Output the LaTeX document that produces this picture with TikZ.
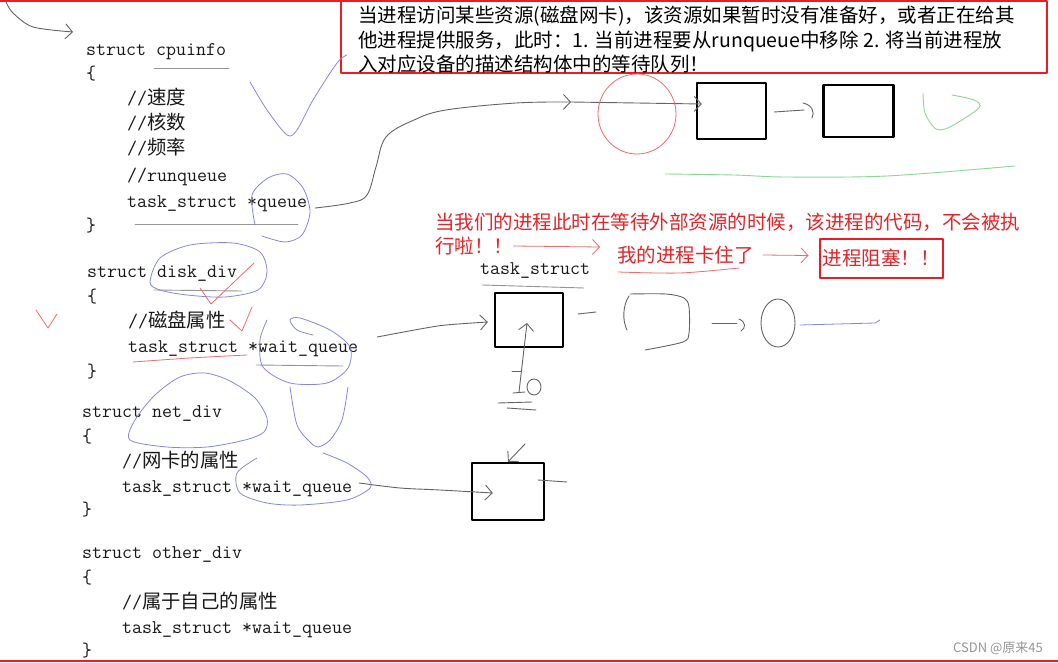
\documentclass[tikz,border=0pt]{standalone}
\usepackage{fontspec}
\usetikzlibrary{arrows.meta,positioning,calc}
\newfontfamily\cjk{Noto Sans CJK SC}
\definecolor{framered}{RGB}{236,28,36}
\definecolor{ink}{RGB}{25,25,25}
\definecolor{pengray}{RGB}{100,100,100}
\definecolor{lightgray}{RGB}{150,150,150}
\definecolor{penblue}{RGB}{135,135,225}
\definecolor{penred}{RGB}{242,105,110}
\definecolor{pengreen}{RGB}{140,215,150}
\definecolor{textred}{RGB}{230,35,40}
\newcommand\zhtext[1]{{\cjk #1}}
\tikzset{code/.style = {anchor=west, inner sep=0pt, text=ink, text height=14pt, text depth=4pt,
    font=\fontsize{19.4}{24}\selectfont\ttfamily},
  note/.style = {anchor=west, inner sep=0pt, font=\cjk\fontsize{19.5}{24.5}\selectfont},
  box/.style = {draw=black, line width=2.4pt, inner sep=0pt},
  redbox/.style = {draw=framered, line width=2pt},
  inkline/.style = {draw=pengray, line width=.9pt},
  underline/.style = {draw=lightgray, line width=.9pt},
  blueline/.style = {draw=penblue, line width=.8pt},
  redline/.style = {draw=penred, line width=.8pt},
  greenline/.style = {draw=pengreen, line width=.9pt}}

\begin{document}
\begin{tikzpicture}[x=1pt, y=-1pt, line cap=round, line join=round,
    >={Straight Barb[length=7pt,width=15pt]}]
  \useasboundingbox (0,0) rectangle (1058,663);
  \fill[white] (0,0) rectangle (1058,663);

  % the note at the top
  \draw[framered, line width=2pt] (0,1) -- (341,1);
  \node[redbox, minimum width=706pt, minimum height=72pt] (note) at (694,37) {};
  \node[note, anchor=north west, align=left] (notetext) at (358,6)
    {当进程访问某些资源(磁盘网卡)，该资源如果暂时没有准备好，或者正在给其\\
     他进程提供服务，此时：1. 当前进程要从runqueue中移除 2. 将当前进程放\\
     入对应设备的描述结构体中的等待队列！};

  % the structs
  \node[code] (cpu) at (86,51) {struct cpuinfo};
  \node[code] (cpuo) at (86,75) {\{};
  \node[code] (speed) at (127,100) {//\zhtext{速度}};
  \node[code] (cores) at (127,125) {//\zhtext{核数}};
  \node[code] (freq) at (127,150) {//\zhtext{频率}};
  \node[code] (runq) at (127,177) {//runqueue};
  \node[code] (queue) at (127,203) {task\_struct *queue};
  \node[code] (cpuc) at (86,227) {\}};

  \node[code] (disk) at (87,272) {struct disk\_div};
  \node[code] (disko) at (87,297) {\{};
  \node[code] (diskattr) at (128,322) {//\zhtext{磁盘属性}};
  \node[code] (diskq) at (128,347) {task\_struct *wait\_queue};
  \node[code] (diskc) at (87,372) {\}};

  \node[code] (net) at (82,412) {struct net\_div};
  \node[code] (neto) at (82,437) {\{};
  \node[code] (netattr) at (122,462) {//\zhtext{网卡的属性}};
  \node[code] (netq) at (122,487) {task\_struct *wait\_queue};
  \node[code] (netc) at (82,510) {\}};

  \node[code] (other) at (82,553) {struct other\_div};
  \node[code] (othero) at (82,578) {\{};
  \node[code] (otherattr) at (122,603) {//\zhtext{属于自己的属性}};
  \node[code] (otherq) at (122,628) {task\_struct *wait\_queue};
  \node[code] (otherc) at (82,651) {\}};

  \draw[underline] (154,68) -- (229,68);
  \draw[underline] (135,224) -- (298,224);
  \draw[underline] (154,290) -- (242,291);
  \draw[underline] (256,365) -- (343,366);

  % queues of boxes
  \node[box, minimum width=69pt, minimum height=56pt] (boxA) at (731.5,111) {};
  \node[box, minimum width=70pt, minimum height=52pt, right=55pt of boxA] (boxB) {};
  \node[box, minimum width=68pt, minimum height=54pt] (boxC) at (529,320) {};
  \node[box, minimum width=72pt, minimum height=57pt] (boxD) at (508,491.5) {};
  \node[code] (tasklabel) at (480,270) {task\_struct};
  \draw[underline] (482,285) -- (584,288);

  % red remarks
  \node[note, text=textred] (waitA) at (435,222)
    {当我们的进程此时在等待外部资源的时候，该进程的代码，不会被执};
  \node[note, text=textred] (waitB) at (435,246) {行啦！！};
  \node[note, text=textred] (stuck) at (617,255) {我的进程卡住了};
  \node[note, text=textred, redbox, inner sep=3pt, minimum height=39pt, anchor=center]
    (blocked) at (881,258.5) {进程阻塞！！};
  \coordinate (stuckin) at ($(stuck.west)+(-17,-8)$);
  \draw[redline, ->] (waitB.east) -- (stuckin);
  \draw[redline, ->] ($(stuck.east)+(9,0)$) -- ($(blocked.west)+(-10,-3)$);
  \draw[redline] plot[smooth] coordinates{(618,272) (680,273) (739,268)};

  % connectors
  \draw[inkline, ->] plot[smooth] coordinates{(6,2) (13,13) (33,27) (73,32)};
  \coordinate (queueout) at ($(queue.east)+(8,5)$);
  \coordinate (queuehop) at (571,102);
  \coordinate (boxAin) at ($(boxA.west)+(6,-7)$);
  \draw[inkline, ->] plot[smooth, tension=.6] coordinates{(queueout) (350,203) (367,195)
    (376,167) (386,137) (414,120) (446,110) (516,103) (queuehop)};
  \draw[inkline, ->] (queuehop) -- (boxAin);
  \draw[inkline] ($(boxA.east)+(7,1)$) -- ($(boxB.west)+(-18,-1)$);
  \draw[inkline] (803,103) .. controls (812,105) and (815,112) .. (812,118);

  \coordinate (diskout) at ($(diskq.east)+(19,-10)$);
  \coordinate (boxCin) at ($(boxC.west)+(-6,2)$);
  \draw[inkline, ->] plot[smooth] coordinates{(diskout) (420,329) (446,325) (boxCin)};
  \draw[inkline, ->] (519,392) -- ($(boxC.center)+(-2,3)$);
  \draw[inkline] (512,371) -- (521,371);
  \draw[inkline] (513,393) -- (525,392);
  \draw[inkline] (534,387) ellipse [x radius=7pt, y radius=8pt];
  \draw[inkline] (498,403) -- (532,402);
  \draw[inkline] (507,408) -- (536,410);
  \draw[inkline] (578,314) -- (596,312);
  \draw[inkline] (629,296) .. controls (623,305) and (622,320) .. (627,330);
  \draw[inkline] plot[smooth] coordinates{(630,294) (666,294) (684,298) (689,307)
    (689,333) (683,342) (645,350)};
  \draw[inkline] (712,323) -- (737,323);
  \draw[inkline] (739,319) .. controls (746,322) and (746,328) .. (741,331);
  \draw[inkline] (778,323) ellipse [x radius=17pt, y radius=24pt];
  \draw[blueline] (800,325) -- (875,323) -- (880,320);

  \coordinate (netout) at ($(netq.east)+(7,-4)$);
  \coordinate (boxDin) at ($(boxD.west)+(22,1.5)$);
  \draw[inkline, ->] plot[smooth] coordinates{(netout) (400,488) (440,490) (boxDin)};
  \draw[inkline, ->] (525,444) -- (boxD.north);
  \draw[inkline] (538,480) -- (567,482);

  % blue marks
  \draw[blueline] plot[smooth] coordinates{(250,82) (267,110) (287,135) (297,130)
    (313,100) (337,63) (347,55)};
  \draw[blueline] plot[smooth] coordinates{(255,225) (252,195) (268,178) (287,174)
    (303,188) (310,212) (302,235) (285,242) (262,236)};
  \draw[blueline] plot[smooth cycle] coordinates{(150,282) (160,258) (190,245) (233,243)
    (260,252) (267,272) (258,290) (225,297) (187,295) (160,290)};
  \draw[blueline] plot[smooth] coordinates{(313,335) (297,330) (290,320) (300,318)
    (330,330) (350,347) (348,368) (327,383) (290,383) (263,367) (260,340) (267,320)};
  \draw[blueline] plot[smooth cycle] coordinates{(130,440) (135,420) (155,395) (180,377)
    (205,373) (230,381) (255,398) (267,418) (264,432) (245,440) (207,447) (167,447)};
  \draw[blueline] plot[smooth] coordinates{(290,387) (297,425) (310,442) (318,447)
    (330,440) (342,420) (348,387)};
  \draw[blueline] plot[smooth] coordinates{(257,458) (237,473) (240,493) (267,503)
    (300,505) (347,500) (370,488) (367,477) (347,463) (323,453)};

  % red and green marks
  \draw[redline] (200,288) -- (211,304) -- (254,263);
  \draw[redline] (36,310) -- (48,328) -- (57,314);
  \draw[redline] (230,320) -- (242,331) -- (252,307);
  \draw[redline] plot[smooth] coordinates{(133,362) (190,358) (247,355)};
  \draw[redline] (637,114) ellipse [x radius=39pt, y radius=40pt];
  \draw[greenline] plot[smooth] coordinates{(923,93) (925,113) (936,129) (950,127)
    (979,108) (974,100) (952,95)};
  \draw[greenline] plot[smooth] coordinates{(665,174) (734,175) (785,177) (887,176)
    (1015,166)};

  \node[anchor=east, inner sep=0pt, text=lightgray, font=\cjk\fontsize{13}{15}\selectfont]
    (credit) at (1043,648) {CSDN @原来45};
  \draw[framered, line width=2pt] (0,661) -- (1058,661);
\end{tikzpicture}
\end{document}
